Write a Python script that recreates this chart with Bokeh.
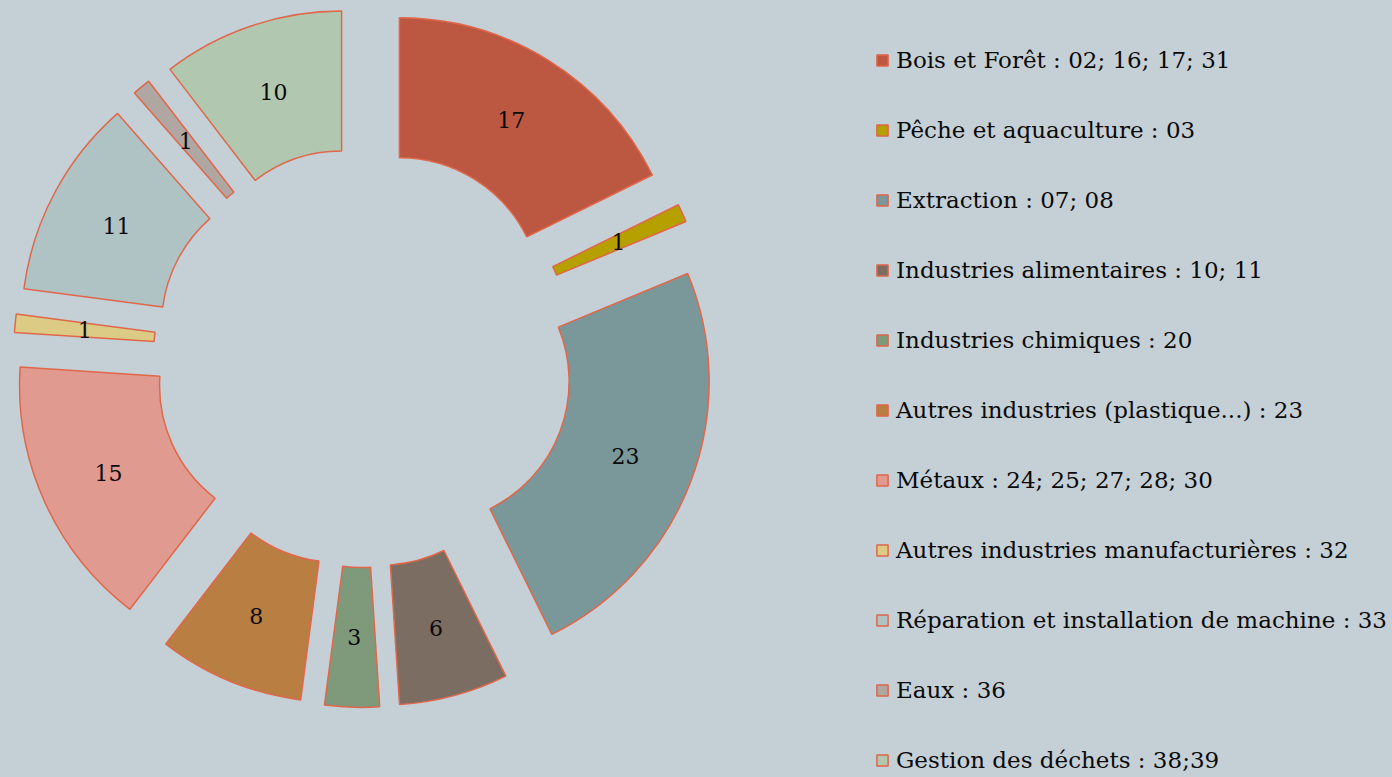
import math
from bokeh.plotting import figure
from bokeh.models import ColumnDataSource, Range1d, Legend, LegendItem, GlobalInlineStyleSheet
from bokeh.core.properties import value
from bokeh.embed import file_html
from bokeh.resources import INLINE

# ---- data ----
categories = [
    "Bois et Forêt : 02; 16; 17; 31",
    "Pêche et aquaculture : 03",
    "Extraction : 07; 08",
    "Industries alimentaires : 10; 11",
    "Industries chimiques : 20",
    "Autres industries (plastique...) : 23",
    "Métaux : 24; 25; 27; 28; 30",
    "Autres industries manufacturières : 32",
    "Réparation et installation de machine : 33",
    "Eaux : 36",
    "Gestion des déchets : 38;39",
]
counts = [17, 1, 23, 6, 3, 8, 15, 1, 11, 1, 10]
colors = ["#bc5842", "#b5a000", "#7a9899", "#7b6d61", "#7f9a7b", "#b97e42",
          "#e09a90", "#dccb84", "#afc3c5", "#b0a7a2", "#b1c7b0"]

# ---- style / geometry ----
W, H = 1392, 777
BG = "#c5d0d6"
EDGE = "#e0674a"
CX, CY = 363, H - 357
R_IN, R_OUT, EXPLODE = 142, 282, 68
FONT = "DejaVu Serif"

total = sum(counts)
starts, ends, xs, ys, lx, ly = [], [], [], [], [], []
cum = 0
for c in counts:
    a0 = math.pi / 2 - cum / total * 2 * math.pi
    a1 = math.pi / 2 - (cum + c) / total * 2 * math.pi
    mid = (a0 + a1) / 2
    starts.append(a0)
    ends.append(a1)
    xs.append(CX + EXPLODE * math.cos(mid))
    ys.append(CY + EXPLODE * math.sin(mid))
    rl = EXPLODE + (R_IN + R_OUT) / 2
    lx.append(CX + rl * math.cos(mid))
    ly.append(CY + rl * math.sin(mid))
    cum += c

src = ColumnDataSource(dict(x=xs, y=ys, start=starts, end=ends, color=colors,
                            cat=categories, lx=lx, ly=ly,
                            txt=[str(c) for c in counts]))

p = figure(width=W, height=H, output_backend="svg", toolbar_location=None,
           x_range=Range1d(0, W), y_range=Range1d(0, H), min_border=0,
           background_fill_color=BG, border_fill_color=BG, outline_line_color=None)
p.axis.visible = False
p.grid.visible = False
p.stylesheets = [GlobalInlineStyleSheet(css=f"html, body {{ margin: 0; padding: 0; background: {BG}; overflow: hidden; }}")]

r = p.annular_wedge(x="x", y="y", inner_radius=R_IN, outer_radius=R_OUT,
                    start_angle="start", end_angle="end", direction="clock",
                    fill_color="color", line_color=EDGE, line_width=1.5, source=src)

p.text(x="lx", y="ly", text="txt", source=src, text_align="center",
       text_baseline="middle", text_font=value(FONT), text_font_size="22px",
       text_color="#0a0a0a")

items = [LegendItem(label=categories[i], renderers=[r], index=i) for i in range(len(categories))]
legend = Legend(items=items, location=(875, 4), orientation="vertical",
                glyph_width=14, glyph_height=14, label_standoff=7,
                label_text_font=FONT, label_text_font_size="23px",
                label_text_color="#0a0a0a", label_height=20,
                spacing=44, padding=0, margin=0,
                background_fill_alpha=0, border_line_color=None)
p.add_layout(legend, "center")

open("out.html", "w").write(file_html(p, INLINE))
